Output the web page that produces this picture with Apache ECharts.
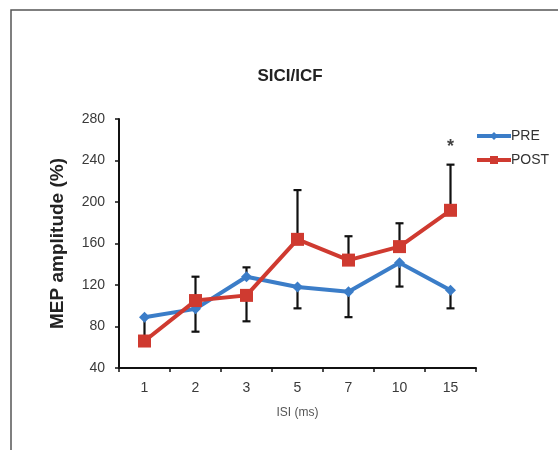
<!DOCTYPE html>
<html>
<head>
<meta charset="utf-8">
<script src="https://cdn.jsdelivr.net/npm/echarts@6/dist/echarts.min.js"></script>
<style>
html,body{margin:0;padding:0;background:#fff;}
#c{width:558px;height:450px;}
</style>
</head>
<body>
<div id="c"></div>
<script>
var categories = ['1', '2', '3', '5', '7', '10', '15'];
var preValues = [89, 97, 128, 118, 113.5, 141.5, 115];
var postValues = [66, 105, 110, 164, 144, 157, 192];
var preErrEnd = [70, 75, 137, 97.5, 89, 118.5, 97.5];
var postErrEnd = [null, 128, 85, 211.5, 167, 179.5, 236];
var yTicks = [40, 80, 120, 160, 200, 240, 280];
var starMarks = [[6, 257]];

var chart = echarts.init(document.getElementById('c'));

function errData(vals, ends) {
  var out = [];
  for (var i = 0; i < vals.length; i++) {
    if (ends[i] !== null) out.push([i, vals[i], ends[i]]);
  }
  return out;
}

function renderErr(params, api) {
  var x = api.value(0);
  var p0 = api.coord([x, api.value(1)]);
  var p1 = api.coord([x, api.value(2)]);
  var cap = 4;
  return {
    type: 'group',
    children: [
      {type: 'line', shape: {x1: p0[0], y1: p0[1], x2: p1[0], y2: p1[1]}, style: {stroke: '#111', lineWidth: 2.2}},
      {type: 'line', shape: {x1: p1[0] - cap, y1: p1[1], x2: p1[0] + cap, y2: p1[1]}, style: {stroke: '#111', lineWidth: 2.2}}
    ]
  };
}

var option = {
  backgroundColor: '#ffffff',
  animation: false,
  title: {
    text: 'SICI/ICF',
    left: 285, top: 63, textAlign: 'center',
    textStyle: {fontFamily: 'Liberation Sans', fontSize: 17, fontWeight: 'bold', color: '#222'}
  },
  graphic: [
    {type: 'rect', shape: {x: 11, y: 10, width: 600, height: 500}, style: {fill: 'none', stroke: '#555', lineWidth: 1.5}, z: 0}
  ],
  legend: {
    left: 470, top: 124, orient: 'vertical', itemGap: 10,
    itemWidth: 34, itemHeight: 10,
    lineStyle: {width: 4},
    textStyle: {fontFamily: 'Liberation Sans', fontSize: 14, color: '#333', padding: [0, 0, 0, -5]},
    data: ['PRE', 'POST']
  },
  grid: {left: 119, right: 82, top: 119, bottom: 82},
  xAxis: {
    type: 'category',
    data: categories,
    boundaryGap: true,
    name: 'ISI (ms)',
    nameLocation: 'middle',
    nameGap: 39,
    nameTextStyle: {fontFamily: 'Liberation Sans', fontSize: 12, color: '#555'},
    axisLine: {lineStyle: {color: '#111', width: 2}},
    axisTick: {show: true, inside: false, length: 4, lineStyle: {color: '#111', width: 1.5}},
    axisLabel: {fontFamily: 'Liberation Sans', fontSize: 14, color: '#3a3a3a', margin: 13},
    splitLine: {show: false}
  },
  yAxis: {
    type: 'value',
    min: yTicks[0], max: yTicks[yTicks.length - 1], interval: 40,
    name: 'MEP amplitude (%)',
    nameLocation: 'middle',
    nameGap: 52,
    nameTextStyle: {fontFamily: 'Liberation Sans', fontSize: 19, fontWeight: 'bold', color: '#222'},
    axisLine: {show: true, lineStyle: {color: '#111', width: 2}},
    axisTick: {show: true, inside: false, length: 4, lineStyle: {color: '#111', width: 1.5}},
    axisLabel: {fontFamily: 'Liberation Sans', fontSize: 14, color: '#3a3a3a', margin: 14},
    splitLine: {show: false}
  },
  series: [
    {
      type: 'custom', name: 'preErr', renderItem: renderErr,
      data: errData(preValues, preErrEnd), z: 1, silent: true
    },
    {
      type: 'custom', name: 'postErr', renderItem: renderErr,
      data: errData(postValues, postErrEnd), z: 1, silent: true
    },
    {
      name: 'PRE', type: 'line', data: preValues,
      symbol: 'diamond', symbolSize: 11,
      lineStyle: {color: '#3b7dc8', width: 4},
      itemStyle: {color: '#3b7dc8'}, z: 3
    },
    {
      name: 'POST', type: 'line', data: postValues,
      symbol: 'rect', symbolSize: 13,
      lineStyle: {color: '#cf3a30', width: 4},
      itemStyle: {color: '#cf3a30'}, z: 4
    },
    {
      name: 'star', type: 'scatter', data: starMarks, symbolSize: 0,
      label: {show: true, formatter: '*', position: 'inside', fontFamily: 'Liberation Sans', fontSize: 18, fontWeight: 'bold', color: '#111', offset: [0, 4]},
      silent: true
    }
  ]
};
chart.setOption(option);
</script>
</body>
</html>
